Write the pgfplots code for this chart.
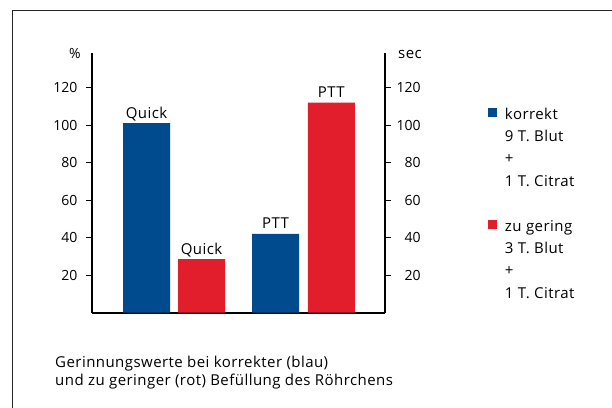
\documentclass[border=0pt]{standalone}
\usepackage{pgfplots}
\pgfplotsset{compat=1.18}
\usepackage{fontspec}
\setmainfont{Open Sans}
\newfontfamily\ls{Open Sans}[LetterSpace=3]
\definecolor{cblue}{RGB}{0,75,141}
\definecolor{cred}{RGB}{226,30,45}
\newcommand\fs{\fontsize{14bp}{17.3bp}\selectfont}
\newcommand\ft{\ls\fontsize{15bp}{17.3bp}\selectfont}
\begin{document}
\begin{tikzpicture}
\useasboundingbox (0,0) rectangle (612bp,-408bp);
\draw[line width=1bp, black!85] (12.3bp,-408bp) -- (12.3bp,-10.7bp) -- (612bp,-10.7bp);
\begin{axis}[
  at={(92bp,-312.5bp)}, anchor=south west,
  scale only axis, width=293bp, height=259.8bp,
  xmin=0, xmax=293, ymin=0, ymax=138.6,
  axis x line*=bottom, axis y line*=left,
  axis line style={-, line width=2bp},
  xtick=\empty,
  ytick={20,40,60,80,100,120},
  tick align=outside, major tick length=6bp,
  tick style={line width=1bp, black},
  yticklabel style={font=\fs, xshift=-5bp},
  /pgf/number format/assume math mode=true,
  ylabel={\%},
  ylabel style={rotate=-90, at={(axis description cs:-0.058,0.9785)}, anchor=base, font=\fs},
  point meta=explicit symbolic,
  nodes near coords,
  nodes near coords style={font=\ft, text=black, anchor=base, yshift=5bp},
  legend style={at={(axis description cs:1.3515,0.8025)}, anchor=north west,
    draw=none, fill=none, inner sep=0pt, outer sep=0pt,
    column sep=7.7bp, row sep=0pt,
    font=\ft,
    cells={anchor=base west},
    nodes={inner sep=0pt, text height=15bp, text depth=7.4bp}},
  legend image code/.code={\fill[#1] (0bp,1.7bp) rectangle (9.3bp,10.7bp);},
]
\addplot[ybar, bar width=47, bar shift=0pt, fill=cblue, draw=none]
  coordinates {(54.5,101)[Quick] (183.5,42)[PTT]};
\addlegendentry{korrekt}
\addlegendimage{empty legend}\addlegendentry{9 T. Blut}
\addlegendimage{empty legend}\addlegendentry{+}
\addlegendimage{empty legend}\addlegendentry{1 T. Citrat}
\addlegendimage{empty legend}\addlegendentry{\mbox{}}
\addplot[ybar, bar width=47, bar shift=0pt, fill=cred, draw=none]
  coordinates {(109.5,28.5)[Quick] (239.25,112)[PTT]};
\addlegendentry{zu gering}
\addlegendimage{empty legend}\addlegendentry{3 T. Blut}
\addlegendimage{empty legend}\addlegendentry{+}
\addlegendimage{empty legend}\addlegendentry{1 T. Citrat}
\end{axis}
\begin{axis}[
  at={(92bp,-312.5bp)}, anchor=south west,
  scale only axis, width=293bp, height=259.8bp,
  xmin=0, xmax=293, ymin=0, ymax=138.6,
  axis x line=none, axis y line*=right,
  axis line style={-, line width=2bp},
  xtick=\empty,
  ytick={20,40,60,80,100,120},
  tick align=outside, major tick length=6bp,
  tick style={line width=1bp, black},
  yticklabel style={font=\fs, text width=26bp, align=right},
  /pgf/number format/assume math mode=true,
  ylabel={sec},
  ylabel style={rotate=-90, at={(axis description cs:1.0853,0.9785)}, anchor=base, font=\ft},
]
\end{axis}
\node[anchor=base west, align=left, font=\ft, inner sep=0pt] at (55bp,-385bp)
  {Gerinnungswerte bei korrekter (blau)\\und zu geringer (rot) Befüllung des Röhrchens};
\end{tikzpicture}
\end{document}
